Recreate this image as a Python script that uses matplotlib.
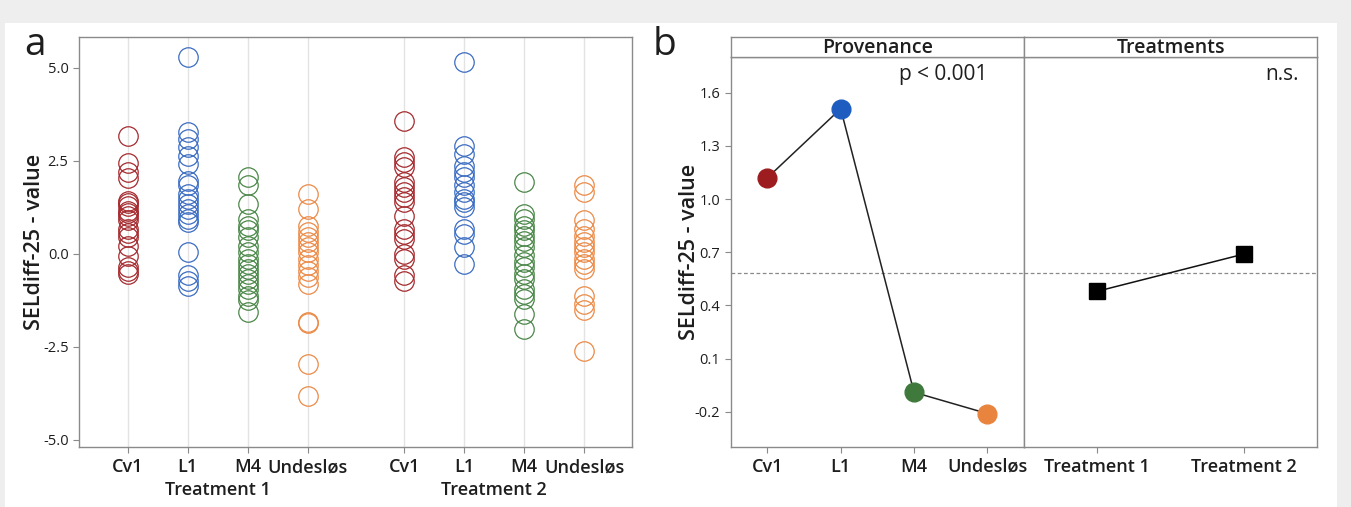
import matplotlib
matplotlib.use("Agg")
import matplotlib.pyplot as plt
from matplotlib.patches import Rectangle
import numpy as np

plt.rcParams['font.family'] = ['Open Sans', 'DejaVu Sans']

# ---------------- data ----------------
provenances = ["Cv1", "L1", "M4", "Undesløs"]
treatments = ["Treatment 1", "Treatment 2"]

cv1_t1 = [3.18, 2.44, 2.20, 2.03, 1.43, 1.36, 1.30, 1.16, 1.10, 1.03, 0.90, 0.67, 0.55, 0.45, 0.22, -0.05, -0.36, -0.45, -0.54]
l1_t1 = [5.29, 3.27, 3.09, 2.87, 2.64, 2.42, 1.97, 1.84, 1.61, 1.48, 1.34, 1.21, 1.08, 0.94, 0.85, 0.04, -0.58, -0.72, -0.85]
m4_t1 = [2.06, 1.84, 1.34, 0.94, 0.76, 0.63, 0.45, 0.22, 0.04, -0.13, -0.27, -0.40, -0.54, -0.67, -0.81, -0.94, -1.12, -1.25, -1.57]
und_t1 = [1.61, 1.21, 0.76, 0.58, 0.45, 0.31, 0.18, 0.04, -0.13, -0.31, -0.45, -0.63, -0.81, -1.84, -1.86, -2.96, -3.81]

cv1_t2 = [3.56, 2.60, 2.46, 2.33, 1.93, 1.79, 1.66, 1.52, 1.39, 1.03, 0.67, 0.54, 0.40, 0.0, -0.13, -0.58, -0.72]
l1_t2 = [5.15, 2.91, 2.69, 2.37, 2.20, 2.06, 1.84, 1.66, 1.48, 1.39, 1.25, 0.67, 0.54, 0.18, -0.27]
m4_t2 = [1.94, 1.08, 0.94, 0.76, 0.63, 0.49, 0.36, 0.18, -0.04, -0.22, -0.36, -0.54, -0.67, -0.94, -1.08, -1.21, -1.61, -2.02]
und_t2 = [1.84, 1.66, 0.90, 0.67, 0.49, 0.31, 0.18, 0.04, -0.13, -0.27, -0.40, -1.12, -1.34, -1.52, -2.60]

prov_means = [1.12, 1.51, -0.09, -0.21]
treat_means = [0.48, 0.69]
grand_mean = 0.585

yticks_a = [-5.0, -2.5, 0.0, 2.5, 5.0]
yticks_b = [-0.2, 0.1, 0.4, 0.7, 1.0, 1.3, 1.6]

# ---------------- style ----------------
open_colors = ["#a52a2e", "#3b6cc2", "#4a8748", "#ec8a46"]
fill_colors = ["#9c1c1f", "#1f5cbf", "#3f7a3c", "#e8843e"]
frame_col = "#8a8a8a"
txt_col = "#1e1e1e"
W, H = 1351, 507

fig = plt.figure(figsize=(W / 100, H / 100), dpi=100)
fig.patch.set_facecolor("#eeeeee")
fig.add_artist(Rectangle((5 / W, 0), (1337 - 5) / W, 1 - 23 / H,
                         transform=fig.transFigure, facecolor="white",
                         edgecolor="none", zorder=0))

def fx(px):
    return px / W

def fy(py):
    return 1 - py / H

def style_frame(ax):
    for s in ax.spines.values():
        s.set_color(frame_col)
        s.set_linewidth(1.0)
    ax.tick_params(colors=frame_col, labelcolor=txt_col, length=4, width=0.8)

# ---------------- panel a ----------------
axa = fig.add_axes([fx(79), fy(447), fx(631.7 - 79), fy(37) - fy(447)])
style_frame(axa)
groups = [[cv1_t1, l1_t1, m4_t1, und_t1], [cv1_t2, l1_t2, m4_t2, und_t2]]
group_gap = 1.61
tick_pos = []
tick_lab = []
centers = []
for g, grp in enumerate(groups):
    offset = g * (3 + group_gap)
    pos = [offset + i for i in range(len(provenances))]
    centers.append(np.mean(pos))
    for i, vals in enumerate(grp):
        axa.axvline(pos[i], color="#e3e3e3", lw=1.0, zorder=1)
        axa.plot([pos[i]] * len(vals), vals, linestyle="none", marker="o",
                 markersize=14, markerfacecolor="none",
                 markeredgecolor=open_colors[i], markeredgewidth=0.9, zorder=3)
    tick_pos += pos
    tick_lab += provenances
axa.set_xlim(-0.81, 3 + group_gap + 3 + 0.79)
axa.set_ylim(-5.19, 5.83)
axa.set_yticks(yticks_a)
axa.set_yticklabels([f"{v:.1f}" for v in yticks_a], fontsize=10.5)
axa.set_xticks(tick_pos)
axa.set_xticklabels(tick_lab, fontsize=13, fontweight="semibold")
axa.tick_params(axis="x", pad=4)
for c, t in zip(centers, treatments):
    axa.text(c, -0.105, t, transform=axa.get_xaxis_transform(), ha="center",
             va="center", fontsize=13, fontweight="semibold", color=txt_col)
axa.set_ylabel("SELdiff-25 - value", fontsize=15.5, fontweight="semibold",
               color=txt_col)
axa.yaxis.set_label_coords((45 - 79) / 552.7, 0.5)

# ---------------- panel b ----------------
bx0, bmid, bx1 = 730.7, 1024, 1317.3
btop, bbot, stop = 57.3, 446.7, 37.3
axp = fig.add_axes([fx(bx0), fy(bbot), fx(bmid - bx0), fy(btop) - fy(bbot)])
axt = fig.add_axes([fx(bmid), fy(bbot), fx(bx1 - bmid), fy(btop) - fy(bbot)], sharey=axp)
for ax in (axp, axt):
    style_frame(ax)
    ax.axhline(grand_mean, color="#8a8a8a", lw=0.9, ls=(0, (3, 2)), zorder=1)
    ax.set_ylim(-0.397, 1.80)

xp = np.arange(len(provenances))
axp.plot(xp, prov_means, color="#222222", lw=1.1, zorder=2)
for i in range(len(provenances)):
    axp.plot(xp[i], prov_means[i], marker="o", markersize=13.5,
             markerfacecolor=fill_colors[i], markeredgecolor=fill_colors[i], zorder=3)
axp.set_xlim(-0.5, 3.5)
axp.set_xticks(xp)
axp.set_xticklabels(provenances, fontsize=13, fontweight="semibold")
axp.set_yticks(yticks_b)
axp.set_yticklabels([f"{v:.1f}" for v in yticks_b], fontsize=10.5)
axp.set_ylabel("SELdiff-25 - value", fontsize=15.5, fontweight="semibold",
               color=txt_col)
axp.yaxis.set_label_coords((700 - bx0) / (bmid - bx0), 0.5)
axp.text(0.725, 0.955, "p < 0.001", transform=axp.transAxes, ha="center",
         va="center", fontsize=15, color=txt_col)

xt = np.arange(len(treatments))
axt.plot(xt, treat_means, color="#111111", lw=1.1, marker="s", markersize=11.5,
         markerfacecolor="black", markeredgecolor="black", zorder=3)
axt.set_xlim(-0.5, 1.5)
axt.set_xticks(xt)
axt.set_xticklabels(treatments, fontsize=13, fontweight="semibold")
axt.tick_params(axis="y", left=False, labelleft=False)
axt.text(0.88, 0.955, "n.s.", transform=axt.transAxes, ha="center",
         va="center", fontsize=15, color=txt_col)
for ax in (axp, axt):
    ax.tick_params(axis="x", pad=4)

# strips
for x0, x1, lab in [(bx0, bmid, "Provenance"), (bmid, bx1, "Treatments")]:
    sa = fig.add_axes([fx(x0), fy(btop), fx(x1 - x0), fy(stop) - fy(btop)])
    sa.set_xticks([])
    sa.set_yticks([])
    for s in sa.spines.values():
        s.set_color(frame_col)
        s.set_linewidth(1.0)
    sa.text(0.5, 0.45, lab, ha="center", va="center", fontsize=14,
            fontweight="semibold", color=txt_col, transform=sa.transAxes)

# panel letters
fig.text(fx(35), fy(45), "a", fontsize=28, ha="center", va="center", color=txt_col)
fig.text(fx(665), fy(45), "b", fontsize=28, ha="center", va="center", color=txt_col)

fig.savefig("out.png", dpi=100, facecolor=fig.get_facecolor())
